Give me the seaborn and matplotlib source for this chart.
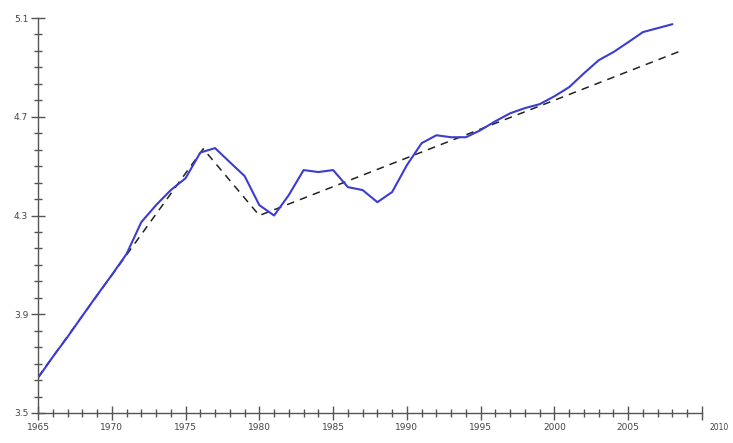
import matplotlib
matplotlib.use("Agg")
import matplotlib.pyplot as plt
import matplotlib.transforms as mtransforms
from matplotlib.ticker import AutoMinorLocator, MultipleLocator
import seaborn as sns
import pandas as pd

years = list(range(1965, 2009))
actual = [3.642, 3.727, 3.808, 3.893, 3.977, 4.059, 4.144, 4.273, 4.342, 4.403,
          4.451, 4.555, 4.573, 4.516, 4.460, 4.342, 4.300, 4.383, 4.484, 4.476,
          4.484, 4.415, 4.403, 4.354, 4.395, 4.504, 4.593, 4.625, 4.617, 4.617,
          4.646, 4.682, 4.714, 4.735, 4.751, 4.783, 4.820, 4.876, 4.929, 4.962,
          5.002, 5.043, 5.059, 5.075]
trend_years = [1965, 1976.2, 1980, 2008.7]
trend = [3.645, 4.570, 4.300, 4.970]

x_ticks = [1965, 1970, 1975, 1980, 1985, 1990, 1995, 2000, 2005, 2010]
x_labels = ["1965", "1970", "1975", "1980", "1985", "1990", "1995", "2000", "2005", "2010"]
y_ticks = [3.5, 3.9, 4.3, 4.7, 5.1]
y_labels = ["3.5", "3.9", "4.3", "4.7", "5.1"]

df_a = pd.DataFrame({"year": years, "value": actual})
df_t = pd.DataFrame({"year": trend_years, "value": trend})

sns.set_theme(style="white")
fig = plt.figure(figsize=(7.33, 4.43), dpi=100)
ax = fig.add_axes([38 / 733, 30 / 443, (702 - 38) / 733, (413 - 18) / 443])

sns.lineplot(data=df_t, x="year", y="value", ax=ax, color="#222222",
             linestyle=(0, (5, 4)), linewidth=1.1)
sns.lineplot(data=df_a, x="year", y="value", ax=ax, color="#3c3cd0",
             linewidth=1.5)

ax.set_xlim(1965, 2010)
ax.set_ylim(3.5, 5.1)
ax.set_xlabel("")
ax.set_ylabel("")
ax.set_xticks(x_ticks)
ax.set_xticklabels(x_labels)
ax.set_yticks(y_ticks)
ax.set_yticklabels(y_labels)
ax.xaxis.set_minor_locator(MultipleLocator(1))
ax.yaxis.set_minor_locator(AutoMinorLocator(6))

for s in ["top", "right"]:
    ax.spines[s].set_visible(False)
for s in ["left", "bottom"]:
    ax.spines[s].set_color("#555555")
    ax.spines[s].set_linewidth(1.0)

ax.tick_params(which="major", direction="inout", length=10, width=1.0,
               color="#555555", labelsize=6.5, labelcolor="#444444", pad=2)
ax.tick_params(which="minor", direction="inout", length=6, width=1.0,
               color="#555555")
ax.tick_params(axis="x", which="both", bottom=True)
ax.tick_params(axis="y", which="both", left=True)

labels = ax.get_xticklabels()
last = labels[-1]
last.set_horizontalalignment("left")
last.set_fontsize(5.5)
last.set_transform(last.get_transform() + mtransforms.ScaledTranslation(8 / 100, 0, fig.dpi_scale_trans))

ax.set_facecolor("white")
fig.patch.set_facecolor("white")
fig.savefig("out.png", dpi=100)
